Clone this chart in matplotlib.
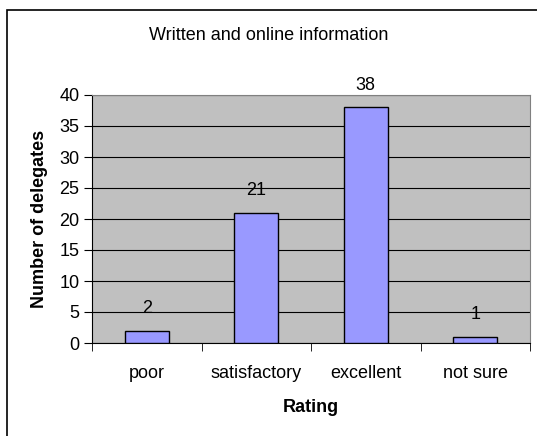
import matplotlib
matplotlib.use("Agg")
import matplotlib.pyplot as plt
from matplotlib.patches import Rectangle

categories = ["poor", "satisfactory", "excellent", "not sure"]
values = [2, 21, 38, 1]
yticks = [0, 5, 10, 15, 20, 25, 30, 35, 40]

plt.rcParams['font.family'] = ['Liberation Sans', 'DejaVu Sans']
W, H = 537, 436
fig = plt.figure(figsize=(W/100, H/100), dpi=100)
fig.patch.set_facecolor('white')
fig.patches.append(Rectangle((7/W, -0.1), 1.2, (H-10)/H + 0.1, transform=fig.transFigure,
                             fill=False, edgecolor='black', linewidth=1.2))

ax = fig.add_axes([92/W, 1-343/H, (530-92)/W, (343-95)/H])
ax.set_facecolor('#C0C0C0')
x = list(range(len(categories)))
ax.bar(x, values, width=0.4, color='#9999FF', edgecolor='black', linewidth=1, zorder=3)
ax.set_xlim(-0.5, len(categories)-0.5)
ax.set_ylim(0, 40)
ax.set_yticks(yticks)
ax.set_yticklabels([str(t) for t in yticks], fontsize=13)
ax.yaxis.grid(True, color='black', linewidth=0.8, zorder=1)
ax.set_axisbelow(True)
ax.set_xticks(x)
ax.set_xticklabels(categories, fontsize=13)
ax.tick_params(axis='x', length=0, pad=16)
ax.set_xticks([i - 0.5 for i in range(len(categories)+1)], minor=True)
ax.tick_params(axis='x', which='minor', length=6, direction='out', color='black')
ax.tick_params(axis='y', length=6, direction='out', color='black', pad=3)
for s in ['top', 'right']:
    ax.spines[s].set_color('#808080')
    ax.spines[s].set_linewidth(0.8)
ax.spines['left'].set_color('black')
ax.spines['bottom'].set_color('black')
for xi, v in zip(x, values):
    ax.annotate(str(v), (xi, v), xytext=(0, 10), textcoords='offset points',
                ha='center', va='bottom', fontsize=13)
ax.set_xlabel("Rating", fontsize=13, fontweight='bold', labelpad=12)
ax.set_ylabel("Number of delegates", fontsize=13, fontweight='bold', labelpad=8)
fig.text(269/W, 1-35/H, "Written and online information", ha='center', va='center', fontsize=13)
fig.savefig("out.png", dpi=100)
